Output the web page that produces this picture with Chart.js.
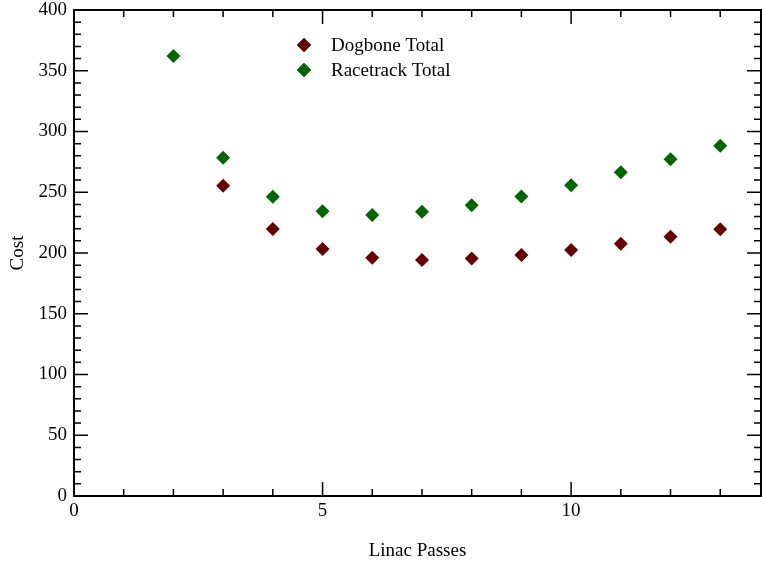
<!DOCTYPE html>
<html>
<head>
<meta charset="utf-8">
<script src="https://cdn.jsdelivr.net/npm/chart.js@4/dist/chart.umd.min.js"></script>
<style>
    html, body { margin: 0; padding: 0; background: #fff; }
    #wrap { width: 762px; height: 564px; }
</style>
</head>
<body>
<div id="wrap"><canvas id="costChart"></canvas></div>
<script>
// data
const passes = [2, 3, 4, 5, 6, 7, 8, 9, 10, 11, 12, 13];
const dogboneCost = [null, 255.4, 219.8, 203.3, 196.1, 194.2, 195.5, 198.4, 202.5, 207.7, 213.4, 219.5];
const racetrackCost = [362.1, 278.4, 246.3, 234.3, 231.3, 234.0, 239.2, 246.6, 255.7, 266.4, 277.1, 288.3];

const xTickValues = [0, 1, 2, 3, 4, 5, 6, 7, 8, 9, 10, 11, 12, 13];
const xTickLabels = ['0', '', '', '', '', '5', '', '', '', '', '10', '', '', ''];
const yTickValues = [];
for (let v = 0; v <= 400; v += 10) yTickValues.push(v);
const yMajor = 50;

const serif = '"Liberation Serif", "Times New Roman", serif';

function toPoints(vals) {
    return passes.map((p, i) => ({ x: p, y: vals[i] })).filter(pt => pt.y !== null);
}

// ticks drawn inward on all four sides, plus the frame
const frameTicks = {
    id: 'frameTicks',
    afterDraw(chart) {
        const { ctx, chartArea: a, scales } = chart;
        ctx.save();
        ctx.strokeStyle = '#000';
        ctx.lineWidth = 1.5;
        ctx.beginPath();
        xTickValues.forEach(v => {
            const px = scales.x.getPixelForValue(v);
            const len = v % 5 === 0 ? 14 : 7;
            ctx.moveTo(px, a.bottom); ctx.lineTo(px, a.bottom - len);
            ctx.moveTo(px, a.top); ctx.lineTo(px, a.top + len);
        });
        yTickValues.forEach(v => {
            const py = scales.y.getPixelForValue(v);
            const len = v % yMajor === 0 ? 14 : 7;
            ctx.moveTo(a.left, py); ctx.lineTo(a.left + len, py);
            ctx.moveTo(a.right, py); ctx.lineTo(a.right - len, py);
        });
        ctx.stroke();
        ctx.lineWidth = 2;
        ctx.strokeRect(a.left, a.top, a.right - a.left, a.bottom - a.top);
        ctx.restore();
    }
};

// legend placed inside the plot, near the top
const innerLegend = {
    id: 'innerLegend',
    afterDraw(chart) {
        const { ctx } = chart;
        ctx.save();
        ctx.font = '19px ' + serif;
        ctx.textBaseline = 'middle';
        ctx.fillStyle = '#000';
        chart.data.datasets.forEach((ds, i) => {
            const y = 45 + i * 25;
            Chart.helpers.drawPoint(ctx, { pointStyle: 'rectRot', radius: 7, borderWidth: 0 }, 304, y);
            ctx.fillStyle = ds.backgroundColor;
            ctx.fill();
            ctx.fillStyle = '#000';
            ctx.fillText(ds.label, 331, y + 1);
        });
        ctx.restore();
    }
};

new Chart(document.getElementById('costChart'), {
    type: 'scatter',
    data: {
        datasets: [
            {
                label: 'Dogbone Total',
                data: toPoints(dogboneCost),
                backgroundColor: '#660000',
                borderColor: '#660000',
                pointStyle: 'rectRot',
                pointRadius: 7,
                pointHoverRadius: 7,
                borderWidth: 0
            },
            {
                label: 'Racetrack Total',
                data: toPoints(racetrackCost),
                backgroundColor: '#006600',
                borderColor: '#006600',
                pointStyle: 'rectRot',
                pointRadius: 7,
                pointHoverRadius: 7,
                borderWidth: 0
            }
        ]
    },
    options: {
        responsive: true,
        maintainAspectRatio: false,
        animation: false,
        layout: { autoPadding: false, padding: { top: 10, right: 1, left: 0, bottom: 0 } },
        plugins: {
            legend: { display: false },
            tooltip: { enabled: false }
        },
        scales: {
            x: {
                type: 'linear',
                min: 0,
                max: 13.82,
                grid: { display: false, drawTicks: false },
                border: { display: false },
                afterBuildTicks: s => { s.ticks = xTickValues.map(v => ({ value: v })); },
                afterFit: s => {
                    s.height = 68;
                    s.paddingLeft = 0; s.paddingRight = 0;
                },
                ticks: {
                    autoSkip: false,
                    maxRotation: 0,
                    padding: 4,
                    color: '#000',
                    font: { family: serif, size: 19 },
                    callback: (val) => xTickLabels[xTickValues.indexOf(val)] ?? ''
                },
                title: {
                    display: true,
                    text: 'Linac Passes',
                    color: '#000',
                    font: { family: serif, size: 19 },
                    padding: { top: 0, bottom: 2 }
                }
            },
            y: {
                min: 0,
                max: 400,
                grid: { display: false, drawTicks: false },
                border: { display: false },
                afterBuildTicks: s => { s.ticks = yTickValues.map(v => ({ value: v })); },
                afterFit: s => {
                    s.width = 74;
                    s.paddingTop = 0; s.paddingBottom = 0;
                },
                ticks: {
                    autoSkip: false,
                    padding: 7,
                    color: '#000',
                    font: { family: serif, size: 19 },
                    callback: (val) => val % yMajor === 0 ? String(val) : ''
                },
                title: {
                    display: true,
                    text: 'Cost',
                    color: '#000',
                    font: { family: serif, size: 19 },
                    padding: { top: 7, bottom: 0 }
                }
            }
        }
    },
    plugins: [frameTicks, innerLegend]
});
</script>
</body>
</html>
